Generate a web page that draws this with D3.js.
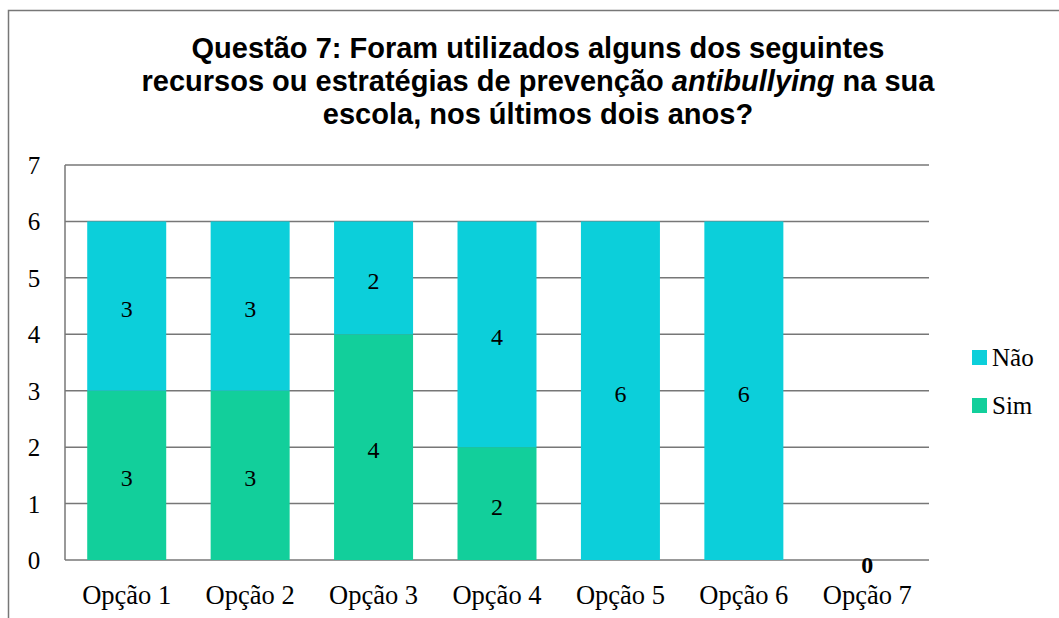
<!DOCTYPE html>
<html><head><meta charset="utf-8">
<script src="https://cdn.jsdelivr.net/npm/d3@7"></script>
<style>body{margin:0;background:#fff}svg{display:block}</style>
</head><body>
<script>
const categories = ["Opção 1","Opção 2","Opção 3","Opção 4","Opção 5","Opção 6","Opção 7"];
const simValues = [3,3,4,2,0,0,0];
const naoValues = [3,3,2,4,6,6,0];
const seriesNames = ["Sim","Não"];
const seriesColors = ["#12CF9B","#0CCFDA"];
const yTicks = [0,1,2,3,4,5,6,7];

const W=1059,H=618;
const svg=d3.select("body").append("svg").attr("width",W).attr("height",H);
const serif="'Liberation Serif','Times New Roman',serif";

// outer border
svg.append("path").attr("d","M8.5,618 V10.5 H1059").attr("fill","none").attr("stroke","#777").attr("stroke-width",1.5);

// title
const title=svg.append("text").attr("text-anchor","middle").attr("font-family","'Liberation Sans',Arial,sans-serif")
 .attr("font-weight","bold").attr("font-size",29).attr("fill","#000");
title.append("tspan").attr("x",538).attr("y",58).text("Questão 7: Foram utilizados alguns dos seguintes");
const l2=title.append("tspan").attr("x",538).attr("y",91);
l2.append("tspan").text("recursos ou estratégias de prevenção ");
l2.append("tspan").attr("font-style","italic").text("antibullying");
l2.append("tspan").text(" na sua");
title.append("tspan").attr("x",538).attr("y",124).text("escola, nos últimos dois anos?");

const x0=65,x1=929,yTop=165,yBot=560;
const x=d3.scaleBand().domain(categories).range([x0,x1]).paddingInner(0.36).paddingOuter(0.18);
const y=d3.scaleLinear().domain([0,7]).range([yBot,yTop]);

// grid
svg.append("g").selectAll("line").data(yTicks).join("line")
 .attr("x1",x0).attr("x2",x1).attr("y1",d=>y(d)).attr("y2",d=>y(d))
 .attr("stroke","#777").attr("stroke-width",1.5);
svg.append("line").attr("x1",x0).attr("x2",x0).attr("y1",yTop).attr("y2",yBot).attr("stroke","#777").attr("stroke-width",1.5);

// stacked data
const rows=categories.map((c,i)=>({cat:c,Sim:simValues[i],"Não":naoValues[i]}));
const stack=d3.stack().keys(seriesNames)(rows);
const color=d3.scaleOrdinal().domain(seriesNames).range(seriesColors);

const g=svg.append("g");
stack.forEach(layer=>{
  g.selectAll(null).data(layer).join("rect")
   .attr("x",d=>x(d.data.cat)).attr("width",x.bandwidth())
   .attr("y",d=>y(d[1])).attr("height",d=>y(d[0])-y(d[1]))
   .attr("fill",color(layer.key));
});
// labels
stack.forEach(layer=>{
  g.selectAll(null).data(layer.filter(d=>d[1]-d[0]>0)).join("text")
   .attr("x",d=>x(d.data.cat)+x.bandwidth()/2)
   .attr("y",d=>(y(d[0])+y(d[1]))/2+11)
   .attr("text-anchor","middle").attr("font-family",serif).attr("font-size",24)
   .text(d=>d[1]-d[0]);
});
// zero label for empty category
rows.forEach(r=>{
  if(r.Sim+r["Não"]===0){
    svg.append("text").attr("x",x(r.cat)+x.bandwidth()/2).attr("y",yBot+13)
     .attr("text-anchor","middle").attr("font-family",serif).attr("font-size",24).attr("font-weight","bold").text("0");
  }
});

// y axis labels
svg.append("g").selectAll("text").data(yTicks).join("text")
 .attr("x",34).attr("y",d=>y(d)+9).attr("text-anchor","middle")
 .attr("font-family",serif).attr("font-size",25).text(d=>d);

// x labels
svg.append("g").selectAll("text").data(categories).join("text")
 .attr("x",d=>x(d)+x.bandwidth()/2).attr("y",604).attr("text-anchor","middle")
 .attr("font-family",serif).attr("font-size",26.5).text(d=>d);

// legend
const leg=svg.append("g");
["Não","Sim"].forEach((k,i)=>{
  const yy=350+i*48;
  leg.append("rect").attr("x",972).attr("y",yy).attr("width",15).attr("height",15).attr("fill",color(k));
  leg.append("text").attr("x",992).attr("y",yy+16).attr("font-family",serif).attr("font-size",25).text(k);
});
</script>
</body></html>
